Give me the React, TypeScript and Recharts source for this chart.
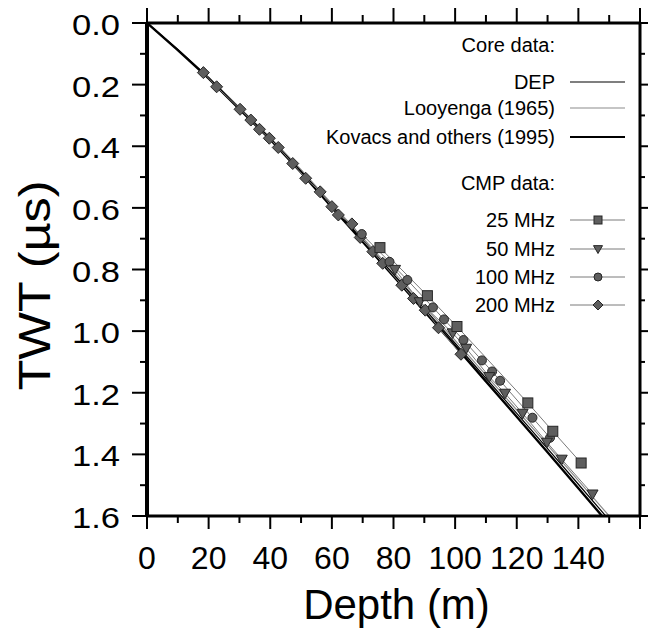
import { ComposedChart, Line, XAxis, YAxis, Legend } from "recharts"

// core-derived TWT curves, sampled every 10 m
const coreDepth = [0, 10, 20, 30, 40, 50, 60, 70, 80, 90, 100, 110, 120, 130, 140, 150]
const depTwt = [0, 0.087, 0.178, 0.277, 0.375, 0.481, 0.593, 0.704, 0.815, 0.927, 1.039, 1.153, 1.267, 1.381, 1.497, 1.613]
const looyengaTwt = [0, 0.086, 0.176, 0.274, 0.371, 0.476, 0.587, 0.697, 0.808, 0.919, 1.03, 1.143, 1.256, 1.37, 1.485, 1.6]
const kovacsTwt = [0, 0.088, 0.18, 0.28, 0.378, 0.485, 0.598, 0.71, 0.822, 0.935, 1.048, 1.163, 1.278, 1.393, 1.51, 1.627]

// CMP picks
const depth25 = [75.6, 91.0, 100.6, 123.6, 131.7, 140.9]
const twt25 = [0.729, 0.885, 0.985, 1.233, 1.325, 1.428]

const depth50 = [80.5, 88.5, 99.2, 103.6, 111.1, 116.2, 121.9, 129.8, 134.6, 144.6]
const twt50 = [0.8, 0.905, 1.006, 1.056, 1.148, 1.202, 1.267, 1.361, 1.416, 1.529]

const depth100 = [69.7, 78.7, 84.5, 92.8, 96.4, 102.7, 108.7, 112.0, 114.6, 125.1, 130.8]
const twt100 = [0.685, 0.775, 0.834, 0.923, 0.962, 1.029, 1.095, 1.131, 1.161, 1.281, 1.346]

const depth200 = [18.3, 22.6, 30.2, 33.7, 36.5, 39.7, 42.6, 47.3, 51.5, 56.2, 60.0, 62.1, 66.5, 69.2, 73.3, 76.5, 82.7, 86.5, 90.3, 94.6, 101.9]
const twt200 = [0.161, 0.207, 0.28, 0.315, 0.345, 0.374, 0.404, 0.456, 0.504, 0.548, 0.596, 0.623, 0.652, 0.696, 0.742, 0.78, 0.851, 0.894, 0.932, 0.989, 1.075]

const xTicks = [0, 10, 20, 30, 40, 50, 60, 70, 80, 90, 100, 110, 120, 130, 140, 150, 160]
const xLabels = [0, 20, 40, 60, 80, 100, 120, 140]
const yTicks = [0, 0.1, 0.2, 0.3, 0.4, 0.5, 0.6, 0.7, 0.8, 0.9, 1.0, 1.1, 1.2, 1.3, 1.4, 1.5, 1.6]

const FONT = '"Liberation Sans", Arial, Helvetica, sans-serif'
const MARK_FILL = "#5e5e5e"
const MARK_STROKE = "#262626"
const CMP_LINE = "#7a7a7a"

const rows = (ds: number[], ts: number[]) => ds.map((d, i) => ({ d, t: ts[i] }))

const isMajorY = (v: number) => Math.round(v * 10) % 2 === 0

function Square({ cx, cy, s = 5 }: any) {
  return <rect x={cx - s} y={cy - s} width={s * 2} height={s * 2} fill={MARK_FILL} stroke={MARK_STROKE} strokeWidth={1} />
}
function Tri({ cx, cy, s = 5.5 }: any) {
  return <polygon points={`${cx - s},${cy - s * 0.75} ${cx + s},${cy - s * 0.75} ${cx},${cy + s}`} fill={MARK_FILL} stroke={MARK_STROKE} strokeWidth={1} />
}
function Circ({ cx, cy, s = 4.5 }: any) {
  return <circle cx={cx} cy={cy} r={s} fill={MARK_FILL} stroke={MARK_STROKE} strokeWidth={1} />
}
function Diamond({ cx, cy, s = 6 }: any) {
  return <polygon points={`${cx},${cy - s} ${cx + s},${cy} ${cx},${cy + s} ${cx - s},${cy}`} fill={MARK_FILL} stroke={MARK_STROKE} strokeWidth={1} />
}

const dotOf = (Shape: any) => (p: any) => <Shape key={`m-${p.index}`} cx={p.cx} cy={p.cy} />

function BottomTick({ x, y, payload }: any) {
  const v = payload.value
  const major = v % 20 === 0
  return (
    <g>
      <line x1={x} y1={y} x2={x} y2={y + (major ? 13 : 7)} stroke="#000" strokeWidth={2} />
      {xLabels.includes(v) && (
        <text x={x} y={y + 53} textAnchor="middle" fontSize={32} fontFamily={FONT} fill="#000">
          {v}
        </text>
      )}
    </g>
  )
}

function TopTick({ x, y, payload }: any) {
  const major = payload.value % 20 === 0
  return <line x1={x} y1={y} x2={x} y2={y - (major ? 15 : 8)} stroke="#000" strokeWidth={2} />
}

function LeftTick({ x, y, payload }: any) {
  const v = payload.value
  const major = isMajorY(v)
  return (
    <g>
      <line x1={x} y1={y} x2={x - (major ? 15 : 7)} y2={y} stroke="#000" strokeWidth={2} />
      {major && (
        <text x={x - 27} y={y + 12} textAnchor="end" fontSize={29} fontFamily={FONT} fill="#000" textLength={48} lengthAdjust="spacingAndGlyphs">
          {v.toFixed(1)}
        </text>
      )}
    </g>
  )
}

function RightTick({ x, y, payload }: any) {
  const major = isMajorY(payload.value)
  return <line x1={x} y1={y} x2={x + (major ? 8 : 5)} y2={y} stroke="#000" strokeWidth={2} />
}

const XTitle = (p: any) => {
  const vb = p.viewBox
  return (
    <text x={vb.x + vb.width / 2 + 3} y={vb.y + 103} textAnchor="middle" fontSize={42} fontFamily={FONT} fill="#000">
      Depth (m)
    </text>
  )
}

const YTitle = (p: any) => {
  const vb = p.viewBox
  const cx = vb.x + vb.width - 97
  const cy = vb.y + vb.height / 2 + 16
  return (
    <text x={cx} y={cy} transform={`rotate(-90 ${cx} ${cy})`} textAnchor="middle" fontSize={44} fontFamily={FONT} fill="#000" textLength={210} lengthAdjust="spacingAndGlyphs">
      TWT (µs)
    </text>
  )
}

const coreKey = [
  { name: "DEP", y: 82, stroke: "#000", w: 1.2 },
  { name: "Looyenga (1965)", y: 108, stroke: "#8c8c8c", w: 1.2 },
  { name: "Kovacs and others (1995)", y: 137, stroke: "#000", w: 2.2 },
]
const cmpKey = [
  { name: "25 MHz", y: 220, Shape: Square, s: 4 },
  { name: "50 MHz", y: 249, Shape: Tri, s: 4.5 },
  { name: "100 MHz", y: 277, Shape: Circ, s: 4 },
  { name: "200 MHz", y: 305, Shape: Diamond, s: 5 },
]

function KeyBox() {
  const tx = 555
  return (
    <svg width={661} height={633} style={{ display: "block" }}>
      <g fontFamily={FONT} fontSize={20} fill="#000">
        <text x={tx} y={52} textAnchor="end">Core data:</text>
        {coreKey.map((k) => (
          <g key={k.name}>
            <text x={tx} y={k.y + 7} textAnchor="end">{k.name}</text>
            <line x1={570} x2={625} y1={k.y} y2={k.y} stroke={k.stroke} strokeWidth={k.w} />
          </g>
        ))}
        <text x={tx} y={190} textAnchor="end">CMP data:</text>
        {cmpKey.map((k) => (
          <g key={k.name}>
            <text x={tx} y={k.y + 7} textAnchor="end">{k.name}</text>
            <line x1={570} x2={625} y1={k.y} y2={k.y} stroke={CMP_LINE} strokeWidth={1} />
            <k.Shape cx={598} cy={k.y} s={k.s} />
          </g>
        ))}
      </g>
    </svg>
  )
}

export default function App() {
  return (
    <div style={{ position: "absolute", left: 0, top: 0, width: 661, height: 633, background: "#fff" }}>
      <ComposedChart width={661} height={633} margin={{ top: 22, right: 20, bottom: 116, left: 146 }}>
        <XAxis
          xAxisId="b"
          type="number"
          dataKey="d"
          domain={[0, 160]}
          ticks={xTicks}
          interval={0}
          allowDataOverflow
          orientation="bottom"
          height={1}
          tickSize={0}
          tickMargin={0}
          tickLine={false}
          tick={<BottomTick />}
          axisLine={{ stroke: "#000", strokeWidth: 3 }}
          label={XTitle}
        />
        <XAxis
          xAxisId="t"
          type="number"
          dataKey="d"
          domain={[0, 160]}
          ticks={xTicks}
          interval={0}
          allowDataOverflow
          orientation="top"
          height={1}
          tickSize={0}
          tickMargin={0}
          tickLine={false}
          tick={<TopTick />}
          axisLine={{ stroke: "#000", strokeWidth: 3 }}
        />
        <YAxis
          yAxisId="l"
          type="number"
          dataKey="t"
          domain={[0, 1.6]}
          reversed
          ticks={yTicks}
          interval={0}
          allowDataOverflow
          orientation="left"
          width={1}
          tickSize={0}
          tickMargin={0}
          tickLine={false}
          tick={<LeftTick />}
          axisLine={{ stroke: "#000", strokeWidth: 4 }}
          label={YTitle}
        />
        <YAxis
          yAxisId="r"
          type="number"
          dataKey="t"
          domain={[0, 1.6]}
          reversed
          ticks={yTicks}
          interval={0}
          allowDataOverflow
          orientation="right"
          width={1}
          tickSize={0}
          tickMargin={0}
          tickLine={false}
          tick={<RightTick />}
          axisLine={{ stroke: "#000", strokeWidth: 3 }}
        />
        <Legend
          layout="horizontal"
          verticalAlign="middle"
          align="center"
          content={() => <KeyBox />}
          wrapperStyle={{ position: "absolute", left: 0, top: 0, width: 661, height: 633, pointerEvents: "none" }}
        />

        <Line xAxisId="b" yAxisId="l" data={rows(coreDepth, looyengaTwt)} dataKey="t" name="Looyenga (1965)" stroke="#8c8c8c" strokeWidth={1.2} dot={false} activeDot={false} isAnimationActive={false} />
        <Line xAxisId="b" yAxisId="l" data={rows(coreDepth, depTwt)} dataKey="t" name="DEP" stroke="#000" strokeWidth={1.2} dot={false} activeDot={false} isAnimationActive={false} />
        <Line xAxisId="b" yAxisId="l" data={rows(coreDepth, kovacsTwt)} dataKey="t" name="Kovacs and others (1995)" stroke="#000" strokeWidth={2.4} dot={false} activeDot={false} isAnimationActive={false} />

        <Line xAxisId="b" yAxisId="l" data={rows(depth200, twt200)} dataKey="t" name="200 MHz" stroke={CMP_LINE} strokeWidth={1} dot={dotOf(Diamond)} activeDot={false} isAnimationActive={false} />
        <Line xAxisId="b" yAxisId="l" data={rows(depth100, twt100)} dataKey="t" name="100 MHz" stroke={CMP_LINE} strokeWidth={1} dot={dotOf(Circ)} activeDot={false} isAnimationActive={false} />
        <Line xAxisId="b" yAxisId="l" data={rows(depth50, twt50)} dataKey="t" name="50 MHz" stroke={CMP_LINE} strokeWidth={1} dot={dotOf(Tri)} activeDot={false} isAnimationActive={false} />
        <Line xAxisId="b" yAxisId="l" data={rows(depth25, twt25)} dataKey="t" name="25 MHz" stroke={CMP_LINE} strokeWidth={1} dot={dotOf(Square)} activeDot={false} isAnimationActive={false} />
      </ComposedChart>
    </div>
  )
}
